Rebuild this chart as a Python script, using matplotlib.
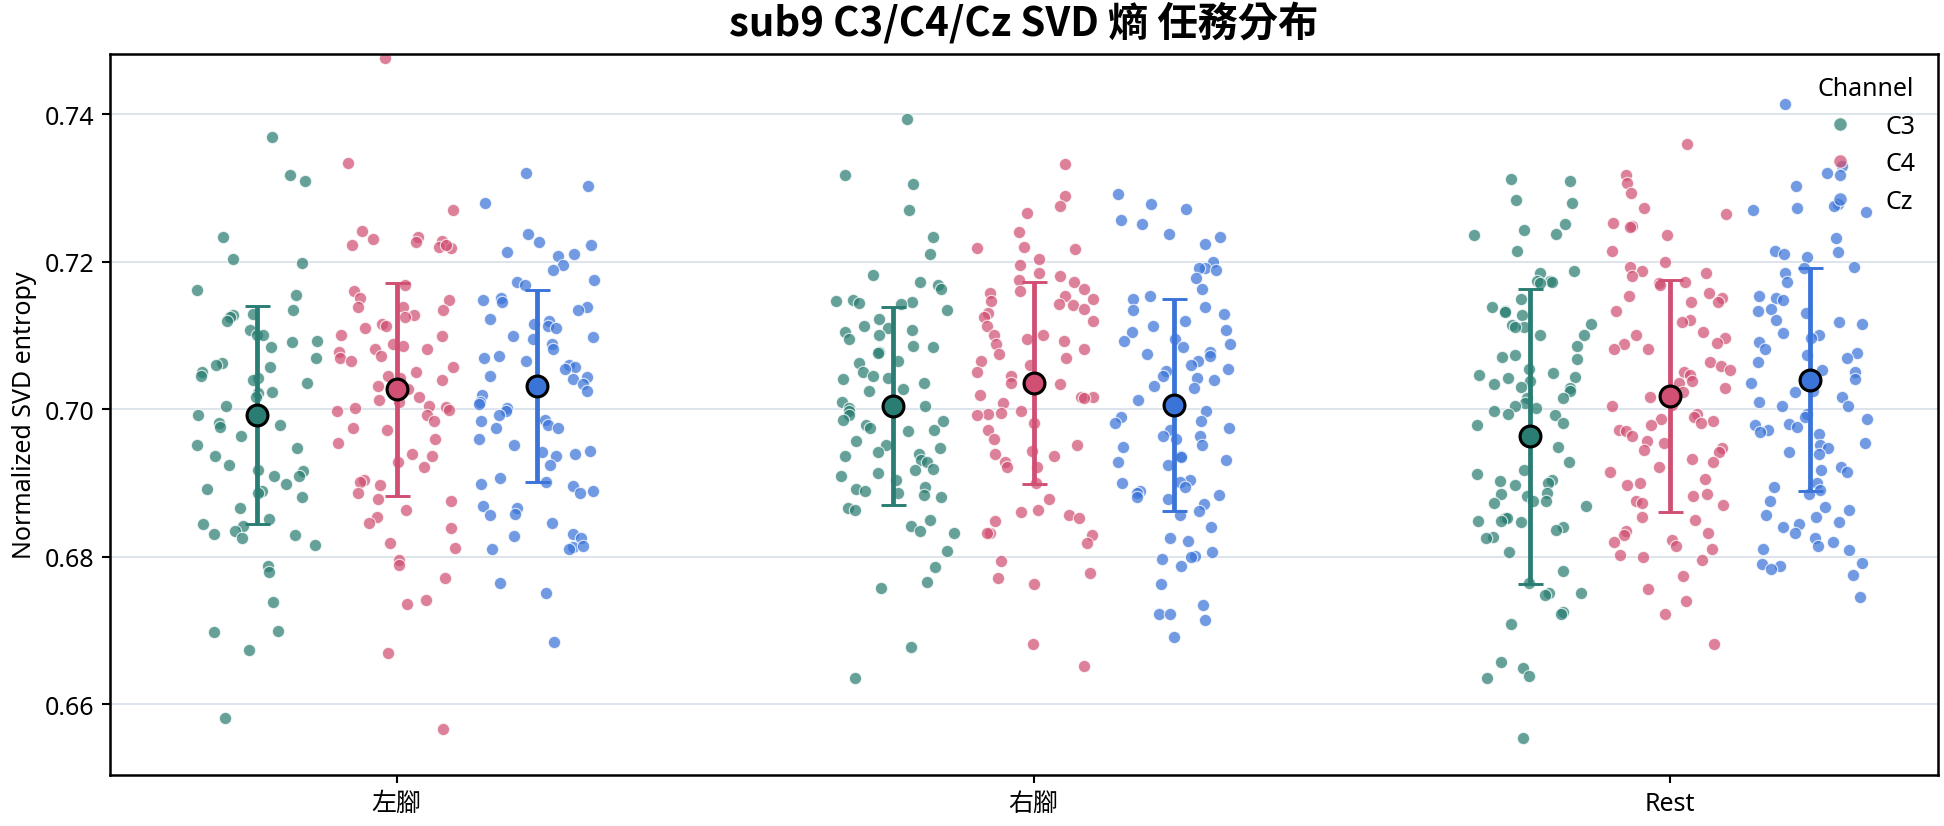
import numpy as np
import matplotlib
matplotlib.use("Agg")
import matplotlib.pyplot as plt
from matplotlib.lines import Line2D

plt.rcParams['font.family'] = ['Noto Sans', 'Noto Sans CJK TC', 'DejaVu Sans']

# ---------------- data ----------------
tasks = ['左腳', '右腳', 'Rest']
channels = ['C3', 'C4', 'Cz']
colors = ['#2a7d72', '#d04f72', '#3b74d9']

# per-trial values (strip points)
left_C3 = [0.7369, 0.7309, 0.7318, 0.7233, 0.7204, 0.7198, 0.7161, 0.7155, 0.7134, 0.7129,
           0.7128, 0.7125, 0.7119, 0.7107, 0.7101, 0.7100, 0.7092, 0.7091, 0.7084, 0.7070,
           0.7063, 0.7060, 0.7057, 0.7051, 0.7045, 0.7042, 0.7039, 0.7036, 0.7023, 0.7022,
           0.7016, 0.7004, 0.6992, 0.6981, 0.6978, 0.6976, 0.6963, 0.6951, 0.6948, 0.6936,
           0.6925, 0.6916, 0.6917, 0.6910, 0.6909, 0.6898, 0.6892, 0.6889, 0.6886, 0.6881,
           0.6866, 0.6851, 0.6845, 0.6842, 0.6835, 0.6831, 0.6829, 0.6826, 0.6816, 0.6788,
           0.6779, 0.6739, 0.6699, 0.6698, 0.6674, 0.6582]
left_C4 = [0.7476, 0.7334, 0.7270, 0.7242, 0.7233, 0.7231, 0.7228, 0.7226, 0.7222, 0.7220,
           0.7219, 0.7222, 0.7168, 0.7160, 0.7151, 0.7148, 0.7139, 0.7138, 0.7134, 0.7128,
           0.7125, 0.7116, 0.7113, 0.7110, 0.7101, 0.7099, 0.7089, 0.7086, 0.7082, 0.7081,
           0.7078, 0.7072, 0.7069, 0.7066, 0.7057, 0.7051, 0.7045, 0.7042, 0.7039, 0.7031,
           0.7028, 0.7016, 0.7013, 0.7010, 0.7005, 0.7003, 0.7001, 0.6999, 0.6998, 0.6992,
           0.6984, 0.6975, 0.6972, 0.6960, 0.6954, 0.6939, 0.6936, 0.6929, 0.6922, 0.6904,
           0.6902, 0.6897, 0.6886, 0.6878, 0.6876, 0.6863, 0.6854, 0.6846, 0.6839, 0.6819,
           0.6812, 0.6795, 0.6789, 0.6771, 0.6741, 0.6736, 0.6669, 0.6566]
left_Cz = [0.7320, 0.7302, 0.7279, 0.7238, 0.7226, 0.7222, 0.7213, 0.7211, 0.7207, 0.7195,
           0.7188, 0.7175, 0.7172, 0.7168, 0.7151, 0.7148, 0.7145, 0.7139, 0.7134, 0.7122,
           0.7119, 0.7116, 0.7113, 0.7110, 0.7099, 0.7098, 0.7095, 0.7088, 0.7082, 0.7072,
           0.7069, 0.7066, 0.7060, 0.7057, 0.7054, 0.7045, 0.7044, 0.7041, 0.7034, 0.7031,
           0.7025, 0.7019, 0.7010, 0.7007, 0.7001, 0.6998, 0.6992, 0.6986, 0.6984, 0.6978,
           0.6975, 0.6974, 0.6960, 0.6951, 0.6944, 0.6942, 0.6939, 0.6936, 0.6925, 0.6907,
           0.6901, 0.6898, 0.6896, 0.6889, 0.6886, 0.6869, 0.6866, 0.6858, 0.6856, 0.6846,
           0.6831, 0.6828, 0.6825, 0.6813, 0.6810, 0.6810, 0.6814, 0.6764, 0.6751, 0.6685]
right_C3 = [0.7394, 0.7318, 0.7305, 0.7270, 0.7233, 0.7210, 0.7182, 0.7172, 0.7169, 0.7163,
            0.7148, 0.7146, 0.7145, 0.7144, 0.7142, 0.7134, 0.7122, 0.7113, 0.7110, 0.7107,
            0.7104, 0.7101, 0.7095, 0.7086, 0.7084, 0.7078, 0.7076, 0.7066, 0.7063, 0.7051,
            0.7045, 0.7042, 0.7041, 0.7036, 0.7028, 0.7025, 0.7010, 0.7004, 0.7001, 0.6998,
            0.6992, 0.6986, 0.6984, 0.6978, 0.6975, 0.6972, 0.6970, 0.6957, 0.6951, 0.6948,
            0.6942, 0.6939, 0.6936, 0.6931, 0.6928, 0.6919, 0.6917, 0.6913, 0.6910, 0.6904,
            0.6895, 0.6892, 0.6889, 0.6886, 0.6884, 0.6881, 0.6866, 0.6863, 0.6850, 0.6842,
            0.6835, 0.6832, 0.6808, 0.6786, 0.6766, 0.6758, 0.6678, 0.6635]
right_C4 = [0.7332, 0.7289, 0.7275, 0.7266, 0.7240, 0.7220, 0.7219, 0.7217, 0.7203, 0.7196,
            0.7184, 0.7181, 0.7175, 0.7172, 0.7163, 0.7160, 0.7157, 0.7154, 0.7150, 0.7146,
            0.7142, 0.7141, 0.7136, 0.7131, 0.7125, 0.7119, 0.7113, 0.7101, 0.7100, 0.7095,
            0.7092, 0.7089, 0.7081, 0.7075, 0.7069, 0.7066, 0.7060, 0.7051, 0.7045, 0.7036,
            0.7034, 0.7031, 0.7019, 0.7017, 0.7016, 0.7015, 0.7008, 0.6998, 0.6995, 0.6994,
            0.6992, 0.6981, 0.6972, 0.6959, 0.6951, 0.6944, 0.6939, 0.6936, 0.6928, 0.6922,
            0.6921, 0.6900, 0.6878, 0.6863, 0.6860, 0.6857, 0.6852, 0.6848, 0.6832, 0.6832,
            0.6829, 0.6819, 0.6794, 0.6778, 0.6771, 0.6763, 0.6682, 0.6652]
right_Cz = [0.7292, 0.7278, 0.7272, 0.7257, 0.7251, 0.7238, 0.7233, 0.7224, 0.7200, 0.7192,
            0.7191, 0.7189, 0.7178, 0.7163, 0.7154, 0.7150, 0.7139, 0.7134, 0.7129, 0.7119,
            0.7113, 0.7107, 0.7104, 0.7095, 0.7092, 0.7089, 0.7084, 0.7078, 0.7075, 0.7072,
            0.7066, 0.7060, 0.7054, 0.7052, 0.7045, 0.7042, 0.7039, 0.7031, 0.7029, 0.7013,
            0.7004, 0.6998, 0.6989, 0.6984, 0.6981, 0.6975, 0.6972, 0.6964, 0.6963, 0.6960,
            0.6952, 0.6949, 0.6936, 0.6935, 0.6931, 0.6928, 0.6925, 0.6904, 0.6901, 0.6900,
            0.6895, 0.6889, 0.6886, 0.6884, 0.6881, 0.6878, 0.6872, 0.6862, 0.6857, 0.6841,
            0.6825, 0.6822, 0.6807, 0.6801, 0.6799, 0.6797, 0.6788, 0.6763, 0.6735, 0.6723,
            0.6722, 0.6714, 0.6691]
rest_C3 = [0.7312, 0.7309, 0.7284, 0.7279, 0.7251, 0.7243, 0.7238, 0.7236, 0.7214,
           0.7187, 0.7185, 0.7174, 0.7174, 0.7172, 0.7171, 0.7149, 0.7138, 0.7133, 0.7132,
           0.7128, 0.7116, 0.7114, 0.7111, 0.7111, 0.7101, 0.7101, 0.7085, 0.7074, 0.7071,
           0.7068, 0.7054, 0.7049, 0.7047, 0.7043, 0.7042, 0.7038, 0.7034, 0.7030, 0.7029,
           0.7025, 0.7015, 0.7015, 0.7008, 0.7005, 0.7002, 0.6997, 0.6993, 0.6992, 0.6981,
           0.6978, 0.6949, 0.6929,
           0.6917, 0.6912, 0.6904, 0.6903, 0.6900, 0.6897, 0.6886, 0.6885, 0.6883, 0.6876,
           0.6875, 0.6873, 0.6869, 0.6853, 0.6853, 0.6849, 0.6848, 0.6847, 0.6841, 0.6836,
           0.6827, 0.6825, 0.6806, 0.6781, 0.6765, 0.6751, 0.6751, 0.6748, 0.6725, 0.6723,
           0.6709, 0.6658, 0.6649, 0.6638, 0.6635, 0.6554]
rest_C4 = [0.7360, 0.7318, 0.7306, 0.7293, 0.7273, 0.7264, 0.7253, 0.7248, 0.7247, 0.7236,
           0.7214, 0.7200, 0.7193, 0.7187, 0.7184, 0.7181, 0.7172, 0.7171, 0.7169, 0.7157,
           0.7154, 0.7151, 0.7145, 0.7145, 0.7133, 0.7121, 0.7118, 0.7104, 0.7100, 0.7097,
           0.7090, 0.7088, 0.7082, 0.7081, 0.7064, 0.7059, 0.7053, 0.7050, 0.7047, 0.7038,
           0.7036, 0.7029, 0.7023, 0.7017, 0.7006, 0.7005, 0.6993, 0.6990, 0.6987, 0.6984,
           0.6981, 0.6978, 0.6972, 0.6970, 0.6963, 0.6957, 0.6954, 0.6948, 0.6945, 0.6942,
           0.6933, 0.6928, 0.6921, 0.6915, 0.6906, 0.6900, 0.6897, 0.6885, 0.6882, 0.6876,
           0.6873, 0.6870, 0.6854, 0.6850, 0.6835, 0.6832, 0.6829, 0.6823, 0.6820, 0.6814,
           0.6811, 0.6802, 0.6799, 0.6796, 0.6774, 0.6756, 0.6740, 0.6722, 0.6682]
rest_Cz = [0.7413, 0.7330, 0.7320, 0.7318, 0.7303, 0.7278, 0.7276, 0.7273, 0.7270, 0.7267,
           0.7232, 0.7214, 0.7213, 0.7211, 0.7206, 0.7193, 0.7191, 0.7184, 0.7172, 0.7154,
           0.7151, 0.7148, 0.7136, 0.7133, 0.7130, 0.7121, 0.7118, 0.7115, 0.7103, 0.7100,
           0.7097, 0.7091, 0.7082, 0.7076, 0.7073, 0.7069, 0.7064, 0.7053, 0.7050, 0.7041,
           0.7035, 0.7024, 0.7023, 0.7017, 0.7010, 0.7005, 0.7004, 0.6993, 0.6990, 0.6987,
           0.6980, 0.6978, 0.6976, 0.6972, 0.6969, 0.6966, 0.6954, 0.6951, 0.6948, 0.6942,
           0.6939, 0.6921, 0.6918, 0.6915, 0.6900, 0.6894, 0.6891, 0.6885, 0.6876, 0.6867,
           0.6864, 0.6857, 0.6854, 0.6847, 0.6844, 0.6841, 0.6832, 0.6826, 0.6820, 0.6814,
           0.6811, 0.6809, 0.6791, 0.6790, 0.6787, 0.6784, 0.6775, 0.6745]

# group means and standard deviations as drawn (order: 左腳, 右腳, Rest)
mean_C3 = [0.6992, 0.7004, 0.6963]
mean_C4 = [0.7027, 0.7035, 0.7018]
mean_Cz = [0.7031, 0.7006, 0.7040]
sd_C3 = [0.0148, 0.0134, 0.0200]
sd_C4 = [0.0144, 0.0137, 0.0157]
sd_Cz = [0.0130, 0.0144, 0.0151]

groups = [[left_C3, left_C4, left_Cz],
          [right_C3, right_C4, right_Cz],
          [rest_C3, rest_C4, rest_Cz]]
means = [mean_C3, mean_C4, mean_Cz]
sds = [sd_C3, sd_C4, sd_Cz]

# ---------------- figure ----------------
fig = plt.figure(figsize=(12.96, 5.5133), dpi=150)
ax = fig.add_axes([0.0567, 0.0615, 0.9401, 0.8725])

dodge = [-0.22, 0.0, 0.22]
jit_rng = np.random.default_rng(7)   # horizontal jitter positions only

for ti, task_groups in enumerate(groups):
    for ci, vals in enumerate(task_groups):
        y = np.asarray(vals)
        x = ti + dodge[ci] + jit_rng.uniform(-0.095, 0.095, len(y))
        ax.scatter(x, y, s=35, color=colors[ci], alpha=0.72, edgecolors='white',
                   linewidths=0.6, zorder=2)

for ci in range(len(channels)):
    xpos = np.arange(len(tasks)) + dodge[ci]
    ax.errorbar(xpos, means[ci], yerr=sds[ci], fmt='none', ecolor=colors[ci],
                elinewidth=2.3, capsize=6.0, capthick=1.4, zorder=3)
    ax.plot(xpos, means[ci], 'o', linestyle='none', ms=10, mfc=colors[ci], mec='black',
            mew=1.5, zorder=4)

ax.set_xlim(-0.45, 2.42)
ax.set_ylim(0.6504, 0.7482)
ax.set_xticks(range(len(tasks)))
ax.set_xticklabels(tasks, fontsize=12)
ax.set_yticks([0.66, 0.68, 0.70, 0.72, 0.74])
ax.set_yticklabels(['0.66', '0.68', '0.70', '0.72', '0.74'], fontsize=12)
ax.yaxis.grid(True, color='#dbe3ea', linewidth=0.9, zorder=0)
ax.set_axisbelow(True)
for sp in ax.spines.values():
    sp.set_linewidth(1.2)
    sp.set_color('black')
ax.tick_params(axis='both', length=4, width=1.0)

ax.set_ylabel('Normalized SVD entropy', fontsize=12)
ax.set_title('sub9 C3/C4/Cz SVD 熵 任務分布', fontsize=19.3, fontweight='bold',
             family=['Noto Sans CJK TC', 'DejaVu Sans'], pad=9)

handles = [Line2D([0], [0], marker='o', linestyle='none', markersize=6.5,
                  markerfacecolor=c, markeredgecolor='white', markeredgewidth=0.6,
                  alpha=0.72) for c in colors]
leg = ax.legend(handles, channels, title='Channel', loc='upper right', frameon=False,
                fontsize=12, title_fontsize=12)

fig.savefig('out.png', dpi=150)
